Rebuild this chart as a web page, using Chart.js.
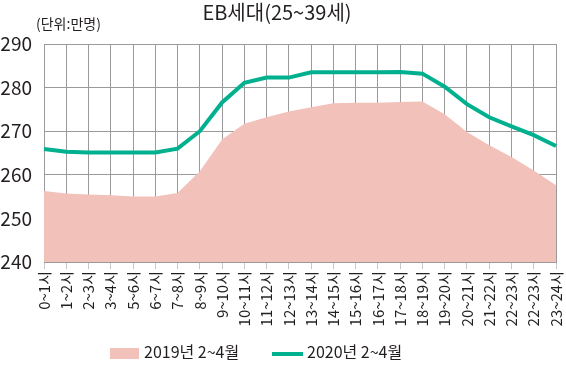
<!DOCTYPE html>
<html>
<head>
<meta charset="utf-8">
<script src="https://cdn.jsdelivr.net/npm/chart.js@4"></script>
<style>
html,body{margin:0;padding:0;background:#fff;}
#wrap{width:566px;height:366px;position:relative;}
</style>
</head>
<body>
<div id="wrap"><canvas id="c" width="566" height="366"></canvas></div>
<script>
const TITLE = 'EB세대(25~39세)';
const UNIT = '(단위:만명)';
const categories = ['0~1시','1~2시','2~3시','3~4시','5~6시','6~7시','7~8시','8~9시','9~10시','10~11시','11~12시','12~13시','13~14시','14~15시','15~16시','16~17시','17~18시','18~19시','19~20시','20~21시','21~22시','22~23시','22~23시','23~24시'];
const series2019Label = '2019년 2~4월';
const series2020Label = '2020년 2~4월';
const values2019 = [256.3,255.7,255.5,255.3,255.0,255.0,255.8,260.8,268.1,271.7,273.2,274.5,275.5,276.4,276.5,276.5,276.7,276.8,273.9,269.8,266.8,264.1,261.0,257.6];
const values2020 = [265.9,265.3,265.1,265.1,265.1,265.1,266.0,270.0,276.6,281.1,282.3,282.3,283.5,283.5,283.5,283.5,283.6,283.2,280.2,276.2,273.2,271.1,269.1,266.6];
const yTicks = [240,250,260,270,280,290];

const FONT = '"Noto Sans CJK KR", "Noto Sans", sans-serif';
const TXT = '#231f20';
const GRID = '#9a9a9a';
const GREEN = '#00b08e';
const PINK = '#f2c1b9';

const textPlugin = {
  id: 'textPlugin',
  afterDraw(chart) {
    const ctx = chart.ctx;
    ctx.save();
    ctx.fillStyle = TXT;
    ctx.textBaseline = 'alphabetic';
    ctx.font = '20px ' + FONT;
    ctx.textAlign = 'center';
    ctx.fillText(TITLE, 277, 20);
    ctx.font = '14px ' + FONT;
    ctx.textAlign = 'left';
    ctx.fillText(UNIT, 36, 29);

    // legend (labels taken from the datasets)
    const ds = chart.data.datasets;
    const d2019 = ds[1], d2020 = ds[0];
    ctx.font = '16px ' + FONT;
    ctx.fillStyle = d2019.backgroundColor;
    ctx.fillRect(110, 348, 29, 11);
    ctx.fillStyle = TXT;
    ctx.fillText(d2019.label, 144, 358);
    ctx.strokeStyle = d2020.borderColor;
    ctx.lineWidth = 4;
    ctx.beginPath();
    ctx.moveTo(272, 354);
    ctx.lineTo(303, 354);
    ctx.stroke();
    ctx.fillText(d2020.label, 307, 358);
    ctx.restore();
  }
};

new Chart(document.getElementById('c'), {
  type: 'line',
  data: {
    labels: categories,
    datasets: [
      {
        label: series2020Label,
        data: values2020,
        borderColor: GREEN,
        backgroundColor: GREEN,
        borderWidth: 4,
        pointRadius: 0,
        fill: false,
        tension: 0,
        order: 0
      },
      {
        label: series2019Label,
        data: values2019,
        borderColor: 'rgba(0,0,0,0)',
        backgroundColor: PINK,
        borderWidth: 0,
        pointRadius: 0,
        fill: 'start',
        tension: 0,
        order: 1
      }
    ]
  },
  options: {
    responsive: false,
    animation: false,
    devicePixelRatio: 1,
    layout: { padding: { left: 0, right: 10, top: 44, bottom: 36 } },
    plugins: {
      title: { display: false },
      tooltip: { enabled: false },
      legend: { display: false }
    },
    scales: {
      x: {
        offset: false,
        grid: { color: GRID, lineWidth: 1, drawTicks: true, tickLength: 7, tickColor: '#c8c8c8' },
        border: { color: GRID },
        ticks: {
          autoSkip: false,
          maxRotation: 90,
          minRotation: 90,
          padding: 2,
          color: TXT,
          font: { family: FONT, size: 15 }
        },
        afterFit(scale) { scale.height = 68; scale.paddingLeft = 0; scale.paddingRight = 0; }
      },
      y: {
        min: 240,
        max: 290,
        afterBuildTicks(scale) { scale.ticks = yTicks.map(v => ({ value: v })); },
        grid: { color: GRID, lineWidth: 1, drawTicks: false },
        border: { color: GRID },
        ticks: {
          padding: 12,
          color: TXT,
          font: { family: FONT, size: 19 }
        },
        afterFit(scale) { scale.width = 44; scale.paddingTop = 0; scale.paddingBottom = 0; }
      }
    }
  },
  plugins: [textPlugin]
});
</script>
</body>
</html>
